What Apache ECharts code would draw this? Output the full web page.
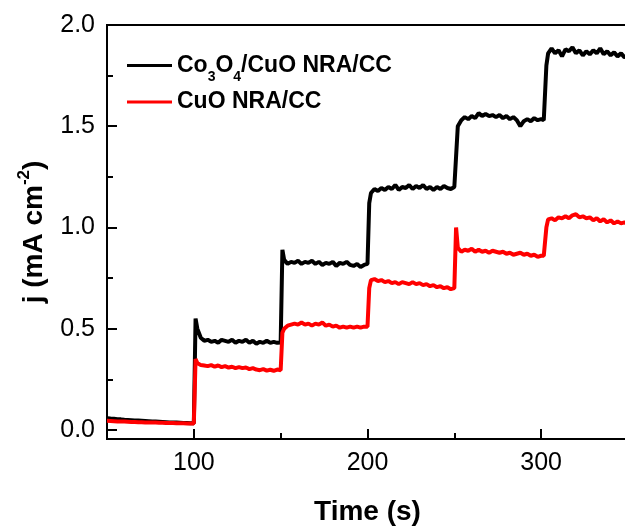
<!DOCTYPE html>
<html>
<head>
<meta charset="utf-8">
<script src="https://cdn.jsdelivr.net/npm/echarts@6/dist/echarts.min.js"></script>
<style>
html,body{margin:0;padding:0;background:#fff;}
#chart{width:625px;height:528px;}
</style>
</head>
<body>
<div id="chart"></div>
<script>
// ---- data ----
const seriesNames = ['Co3O4/CuO NRA/CC', 'CuO NRA/CC'];
const xTickValues = [100, 200, 300];
const xMinorTickValues = [50, 150, 250, 350];
const yTickValues = [0, 0.5, 1.0, 1.5, 2.0];
const yMinorTickValues = [0.25, 0.75, 1.25, 1.75];

const time = [
  50,52,54,56,58,60,62,64,66,68,70,72,74,76,78,80,82,84,86,88,90,92,94,96,98,100,
  101,102,104,106,108,110,112,114,116,118,120,122,124,126,128,130,132,134,136,138,140,142,144,146,148,150,
  151,152,154,156,158,160,162,164,166,168,170,172,174,176,178,180,182,184,186,188,190,192,194,196,198,200,
  201,202,204,206,208,210,212,214,216,218,220,222,224,226,228,230,232,234,236,238,240,242,244,246,248,250,
  251,252,254,256,258,260,262,264,266,268,270,272,274,276,278,280,282,284,286,288,290,292,294,296,298,300,
  301.5,303,304,306,308,310,312,314,316,318,320,322,324,326,328,330,332,334,336,338,340,342,344,346,348,350
];

const co3o4CuoCurrent = [
  0.058,0.056,0.055,0.053,0.052,0.050,0.049,0.048,0.047,0.046,0.045,0.044,0.043,0.042,0.041,0.040,0.039,0.038,0.037,0.036,0.036,0.035,0.034,0.034,0.033,0.033,
  0.55,0.50,0.455,0.44,0.445,0.435,0.44,0.43,0.445,0.44,0.435,0.445,0.43,0.44,0.435,0.445,0.43,0.44,0.425,0.435,0.43,0.44,0.43,0.435,0.43,0.432,
  0.89,0.84,0.82,0.83,0.825,0.835,0.82,0.83,0.825,0.835,0.82,0.83,0.815,0.825,0.82,0.83,0.81,0.825,0.82,0.83,0.815,0.81,0.82,0.805,0.815,0.82,
  1.12,1.17,1.19,1.18,1.195,1.185,1.2,1.19,1.21,1.185,1.2,1.195,1.21,1.19,1.205,1.195,1.21,1.19,1.2,1.185,1.2,1.19,1.205,1.195,1.19,1.2,
  1.35,1.50,1.53,1.545,1.535,1.55,1.54,1.565,1.55,1.56,1.55,1.555,1.545,1.555,1.54,1.55,1.535,1.545,1.53,1.50,1.525,1.535,1.525,1.54,1.53,1.535,
  1.53,1.80,1.86,1.885,1.86,1.875,1.845,1.88,1.87,1.89,1.86,1.875,1.85,1.87,1.855,1.875,1.86,1.885,1.855,1.87,1.85,1.865,1.845,1.86,1.84,1.85
];

const cuoCurrent = [
  0.045,0.044,0.043,0.042,0.041,0.041,0.040,0.039,0.039,0.038,0.038,0.037,0.037,0.036,0.036,0.035,0.035,0.034,0.034,0.034,0.033,0.033,0.033,0.032,0.032,0.032,
  0.35,0.33,0.32,0.318,0.315,0.32,0.312,0.318,0.31,0.315,0.308,0.312,0.305,0.31,0.305,0.308,0.30,0.305,0.298,0.295,0.30,0.293,0.297,0.292,0.298,0.295,
  0.48,0.50,0.515,0.52,0.525,0.52,0.53,0.52,0.525,0.515,0.525,0.52,0.53,0.515,0.52,0.51,0.515,0.505,0.51,0.505,0.51,0.505,0.51,0.505,0.51,0.51,
  0.70,0.74,0.745,0.735,0.74,0.73,0.735,0.725,0.73,0.72,0.73,0.725,0.72,0.73,0.72,0.725,0.715,0.72,0.71,0.715,0.705,0.71,0.70,0.705,0.695,0.70,
  1.0,0.90,0.88,0.89,0.885,0.895,0.88,0.89,0.88,0.885,0.875,0.885,0.88,0.875,0.88,0.87,0.875,0.865,0.87,0.875,0.865,0.87,0.86,0.865,0.855,0.86,
  0.86,1.00,1.04,1.045,1.035,1.05,1.045,1.055,1.045,1.06,1.065,1.05,1.055,1.045,1.05,1.035,1.045,1.03,1.04,1.025,1.035,1.02,1.03,1.02,1.025,1.015
];

// ---- build chart ----
const FONT = "'Liberation Sans', Arial, Helvetica, sans-serif";
const zip = (xs, ys) => xs.map((x, i) => [x, ys[i]]);

const chart = echarts.init(document.getElementById('chart'), null, {renderer: 'canvas'});

const legendText = {
  fontSize: 23, fontWeight: 'bold', color: '#000', fontFamily: FONT, lineHeight: 23,
  rich: {
    s: {fontSize: 14, fontWeight: 'bold', color: '#000', fontFamily: FONT, lineHeight: 14, padding: [24, 0, 0, 0]}
  }
};

const option = {
  backgroundColor: '#fff',
  animation: false,
  grid: {
    left: 107, top: 25, right: -3, bottom: 89,
    show: true, borderColor: '#000', borderWidth: 2, backgroundColor: 'transparent',
    containLabel: false, outerBoundsMode: 'none'
  },
  legend: [
    {
      data: [seriesNames[0]], left: 122, top: 41.5, orient: 'vertical',
      icon: 'rect', itemWidth: 45, itemHeight: 3, itemGap: 0,
      formatter: () => 'Co{s|3}O{s|4}/CuO NRA/CC',
      textStyle: legendText
    },
    {
      data: [seriesNames[1]], left: 122, top: 85.5, orient: 'vertical',
      icon: 'rect', itemWidth: 45, itemHeight: 3, itemGap: 0,
      textStyle: legendText
    }
  ],
  xAxis: [
    {
      type: 'value', min: 50, max: 350, gridIndex: 0, position: 'bottom',
      name: 'Time (s)', nameLocation: 'middle', nameGap: 59, nameMoveOverlap: false,
      nameTextStyle: {fontSize: 28, fontWeight: 'bold', color: '#000', fontFamily: FONT, lineHeight: 28},
      axisLine: {show: true, onZero: false, lineStyle: {color: '#000', width: 2}},
      axisTick: {show: true, inside: true, length: 10, lineStyle: {color: '#000', width: 2}, customValues: xTickValues},
      axisLabel: {show: true, margin: 12, fontSize: 25, color: '#000', fontFamily: FONT, lineHeight: 25, customValues: xTickValues},
      splitLine: {show: false}
    },
    {
      type: 'value', min: 50, max: 350, gridIndex: 0, position: 'bottom',
      axisLine: {show: false, onZero: false},
      axisTick: {show: true, inside: true, length: 6, lineStyle: {color: '#000', width: 2}, customValues: xMinorTickValues},
      axisLabel: {show: false},
      splitLine: {show: false}
    }
  ],
  yAxis: [
    {
      type: 'value', min: -0.045, max: 2.0, gridIndex: 0, position: 'left',
      name: 'j (mA cm{sup|-2})', nameLocation: 'middle', nameRotate: 90, nameGap: 59, nameMoveOverlap: false,
      nameTextStyle: {
        fontSize: 28, fontWeight: 'bold', color: '#000', fontFamily: FONT, lineHeight: 28,
        rich: {sup: {fontSize: 17, fontWeight: 'bold', color: '#000', fontFamily: FONT, lineHeight: 17, padding: [0, 0, 20, 0]}}
      },
      axisLine: {show: true, onZero: false, lineStyle: {color: '#000', width: 2}},
      axisTick: {show: true, inside: true, length: 10, lineStyle: {color: '#000', width: 2}, customValues: yTickValues},
      axisLabel: {show: true, margin: 12, fontSize: 25, color: '#000', fontFamily: FONT,
        customValues: yTickValues, formatter: v => v.toFixed(1)},
      splitLine: {show: false}
    },
    {
      type: 'value', min: -0.045, max: 2.0, gridIndex: 0, position: 'left',
      axisLine: {show: false, onZero: false},
      axisTick: {show: true, inside: true, length: 6, lineStyle: {color: '#000', width: 2}, customValues: yMinorTickValues},
      axisLabel: {show: false},
      splitLine: {show: false}
    }
  ],
  series: [
    {
      name: seriesNames[0], type: 'line', xAxisIndex: 0, yAxisIndex: 0,
      data: zip(time, co3o4CuoCurrent), showSymbol: false, symbol: 'none',
      lineStyle: {color: '#000', width: 4}, itemStyle: {color: '#000'}, z: 2
    },
    {
      name: seriesNames[1], type: 'line', xAxisIndex: 0, yAxisIndex: 0,
      data: zip(time, cuoCurrent), showSymbol: false, symbol: 'none',
      lineStyle: {color: '#ff0000', width: 4}, itemStyle: {color: '#ff0000'}, z: 3
    }
  ]
};
chart.setOption(option);
</script>
</body>
</html>
